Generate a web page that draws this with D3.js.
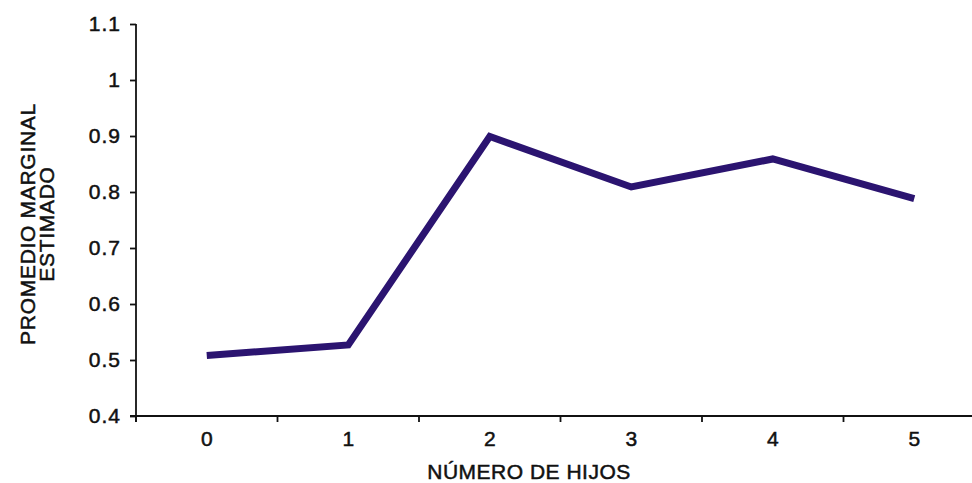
<!DOCTYPE html>
<html>
<head>
<meta charset="utf-8">
<script src="https://cdn.jsdelivr.net/npm/d3@7"></script>
<style>
  html, body { margin: 0; padding: 0; background: #fff; }
  svg { display: block; }
  text { font-family: "Liberation Sans", Arial, sans-serif; fill: #111; stroke: #111; stroke-width: 0.5px; }
</style>
</head>
<body>
<svg id="chart" width="972" height="483"></svg>
<script>
const categories = ["0", "1", "2", "3", "4", "5"];
const values = [0.508, 0.527, 0.899, 0.809, 0.859, 0.788];
const yTicks = [0.4, 0.5, 0.6, 0.7, 0.8, 0.9, 1, 1.1];
const yTitle = ["PROMEDIO MARGINAL", "ESTIMADO"];
const xTitle = "NÚMERO DE HIJOS";

const svg = d3.select("#chart");
const mLeft = 136, mTop = 24, mBottom = 416, mRight = 985;
const fs = 21;

const x = d3.scaleBand().domain(categories).range([mLeft, mRight]).padding(0);
const y = d3.scaleLinear().domain([0.4, 1.1]).range([mBottom, mTop]);

// Y axis
const yAxis = svg.append("g").attr("transform", `translate(${mLeft},0)`)
  .call(d3.axisLeft(y).tickValues(yTicks).tickSize(6).tickPadding(9)
    .tickFormat(d => String(+d.toFixed(1))));
yAxis.select(".domain").attr("stroke", "#111").attr("stroke-width", 1.8).attr("d", `M0,${mTop}V${mBottom + 6}`);
yAxis.selectAll(".tick line").attr("stroke", "#111").attr("stroke-width", 1.8);
yAxis.selectAll(".tick text").attr("font-size", fs).attr("letter-spacing", "1px")
  .attr("font-family", null).style("fill", "#111");

// X axis
const xAxis = svg.append("g").attr("transform", `translate(0,${mBottom})`)
  .call(d3.axisBottom(x).tickSize(0).tickPadding(15));
xAxis.select(".domain").attr("stroke", "#111").attr("stroke-width", 2).attr("d", `M${mLeft - 6},0H${mRight}`);
xAxis.selectAll(".tick text").attr("font-size", fs).attr("font-family", null).style("fill", "#111");
// boundary tick marks between categories
const boundaries = categories.map(c => x(c));
xAxis.selectAll(".bnd").data(boundaries).enter().append("line")
  .attr("x1", d => d).attr("x2", d => d).attr("y1", 0).attr("y2", 6)
  .attr("stroke", "#111").attr("stroke-width", 1.8);

// Line
const line = d3.line()
  .x((d, i) => x(categories[i]) + x.bandwidth() / 2)
  .y(d => y(d));
svg.append("path").datum(values)
  .attr("d", line)
  .attr("fill", "none")
  .attr("stroke", "#2b1470")
  .attr("stroke-width", 7)
  .attr("stroke-linejoin", "miter");

// Titles
svg.append("text")
  .attr("x", 529).attr("y", 479)
  .attr("text-anchor", "middle").attr("font-size", fs).attr("letter-spacing", "0.5px")
  .text(xTitle);

const yt = svg.append("text")
  .attr("transform", `translate(35,224) rotate(-90)`)
  .attr("text-anchor", "middle").attr("font-size", fs).attr("letter-spacing", "0.7px");
yTitle.forEach((t, i) => {
  yt.append("tspan").attr("x", 0).attr("dy", i === 0 ? 0 : 19).text(t);
});
</script>
</body>
</html>
